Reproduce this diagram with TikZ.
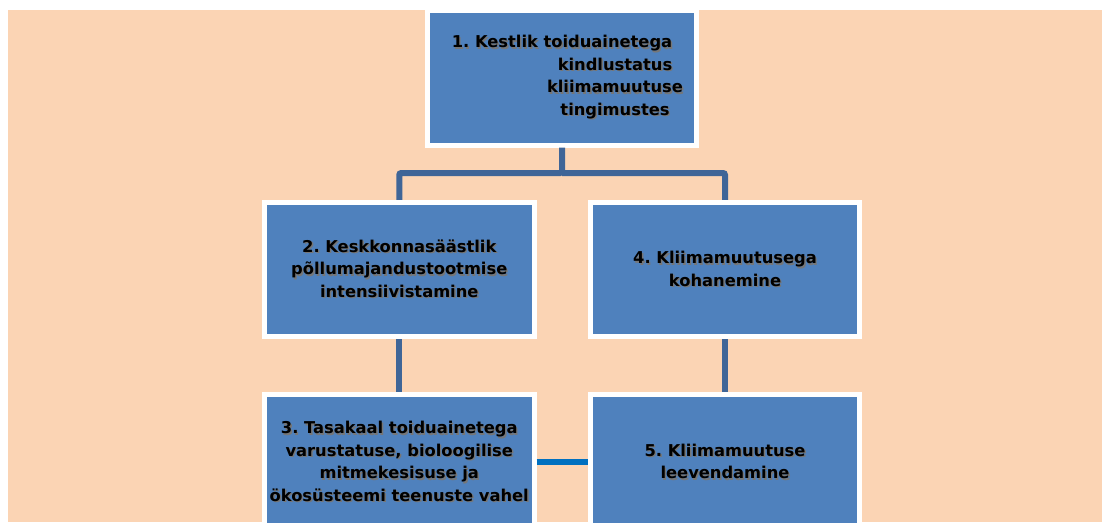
\documentclass[tikz,border=0pt]{standalone}
\usepackage{fontspec}
\setmainfont{DejaVu Sans}
\usetikzlibrary{positioning}

\definecolor{bgpeach}{HTML}{FBD4B4}
\definecolor{boxblue}{HTML}{4F81BD}
\definecolor{linkblue}{HTML}{3F6597}
\definecolor{crossblue}{HTML}{0070C0}
\definecolor{shadowgray}{HTML}{767676}

% text with a soft grey drop shadow
\newcommand{\shd}[1]{\makebox[0pt][l]{\raisebox{-1.4pt}{\hspace{1.4pt}\textcolor{shadowgray}{#1}}}#1}

\tikzset{
  goalbox/.style={rectangle, fill=boxblue, draw=white, line width=5pt,
    minimum width=269.5pt, minimum height=134.5pt, inner sep=0pt,
    align=center, text=black,
    font={\frenchspacing\bfseries\fontsize{16.3pt}{22.5pt}\selectfont}},
  link/.style={draw=linkblue, line width=6pt, rounded corners=2pt},
  crosslink/.style={draw=crossblue, line width=6pt}
}

\begin{document}
\begin{tikzpicture}[x=1pt, y=-1pt]
  \clip (0,0) rectangle (1102,522);
  % background
  \fill[bgpeach] (8,10) rectangle (1102,522);

  % goal boxes
  \node[goalbox] (g1) at (562,77.75)
    {\shd{1. Kestlik toiduainetega}\\
     \hspace*{106pt}\shd{kindlustatus}\\
     \hspace*{106pt}\shd{kliimamuutuse}\\
     \hspace*{106pt}\shd{tingimustes}};
  \node[goalbox] (g2) at (399.25,269.5)
    {\shd{2. Keskkonnasäästlik}\\ \shd{põllumajandustootmise}\\ \shd{intensiivistamine}};
  \node[goalbox] (g4) at (725,269.5)
    {\shd{4. Kliimamuutusega}\\ \shd{kohanemine}};
  \node[goalbox, minimum height=135pt] (g3) at (399.25,462)
    {\shd{3. Tasakaal toiduainetega}\\ \shd{varustatuse, bioloogilise}\\
     \shd{mitmekesisuse ja}\\ \shd{ökosüsteemi teenuste vahel}};
  \node[goalbox, minimum height=135pt] (g5) at (725,462)
    {\shd{5. Kliimamuutuse}\\ \shd{leevendamine}};

  % connectors
  \coordinate (split) at (562,173);
  \draw[link] (g1) -- (split) -| (g2);
  \draw[link] (split) -| (g4);
  \draw[link] (g2) -- (g3);
  \draw[link] (g4) -- (g5);
  \draw[crosslink] (g3.east) -- (g5.west);
\end{tikzpicture}
\end{document}
